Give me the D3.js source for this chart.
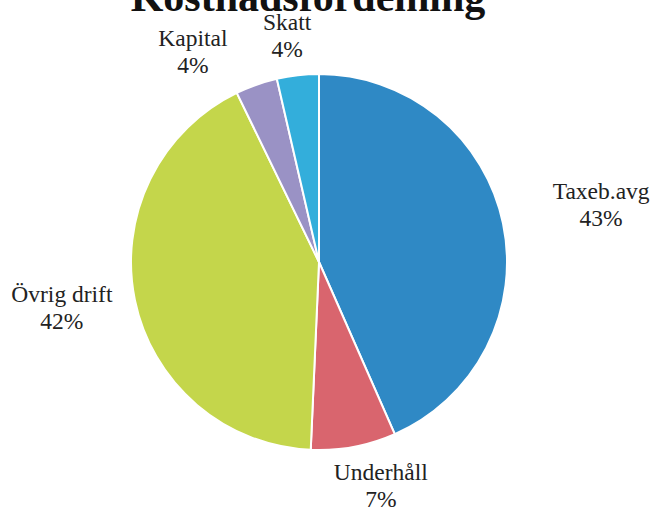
<!DOCTYPE html>
<html>
<head>
<meta charset="utf-8">
<script src="https://cdn.jsdelivr.net/npm/d3@7"></script>
<style>
  body { margin: 0; background: #fff; }
  svg { display: block; }
</style>
</head>
<body>
<div id="chart"></div>
<script>
// Data
const categories = ['Taxeb.avg', 'Underhåll', 'Övrig drift', 'Kapital', 'Skatt']
const values = [43.4, 7.3, 42.1, 3.6, 3.6]
const percentLabels = ['43%', '7%', '42%', '4%', '4%']
const colors = ['#2f89c5', '#d9656e', '#c4d64b', '#9a92c5', '#33aedb']

// Dimensions
const dimensions = { width: 656, height: 512, cx: 319, cy: 262, radius: 188 }
// label placement: distance from pie centre and a small angular nudge (deg), like Excel "best fit"
const labelRadius = [288, 231, 261, 246, 229]
const labelNudge = [0.3, -4.9, 1.8, -11.4, -1.5]

const svg = d3.select('#chart')
  .append('svg')
  .attr('width', dimensions.width)
  .attr('height', dimensions.height)

svg.append('text')
  .attr('x', 308)
  .attr('y', 11)
  .attr('text-anchor', 'middle')
  .style('font-family', '"Liberation Serif", "Times New Roman", serif')
  .style('font-weight', 'bold')
  .style('font-size', '42px')
  .attr('fill', '#111')
  .text('Kostnadsfördelning')

const ctr = svg.append('g')
  .attr('transform', `translate(${dimensions.cx}, ${dimensions.cy})`)

const dataset = categories.map((c, i) => ({ name: c, value: values[i], pct: percentLabels[i], color: colors[i] }))

const pie = d3.pie().value(d => d.value).sort(null)
const arcs = pie(dataset)

const arc = d3.arc().innerRadius(0).outerRadius(dimensions.radius)

ctr.selectAll('path')
  .data(arcs)
  .join('path')
  .attr('d', arc)
  .attr('fill', d => d.data.color)
  .attr('stroke', '#fff')
  .attr('stroke-width', 2)

// labels
const labels = ctr.selectAll('g.label')
  .data(arcs)
  .join('g')
  .attr('class', 'label')
  .attr('transform', (d, i) => {
    const a = (d.startAngle + d.endAngle) / 2 + labelNudge[i] * Math.PI / 180
    const r = labelRadius[i]
    return `translate(${Math.sin(a) * r}, ${-Math.cos(a) * r})`
  })
  .style('font-family', '"Liberation Serif", "Times New Roman", serif')
  .style('font-size', '23.5px')
  .attr('fill', '#222')
  .attr('text-anchor', 'middle')

labels.append('text')
  .attr('y', -5)
  .text(d => d.data.name)

labels.append('text')
  .attr('y', 22)
  .text(d => d.data.pct)
</script>
</body>
</html>
